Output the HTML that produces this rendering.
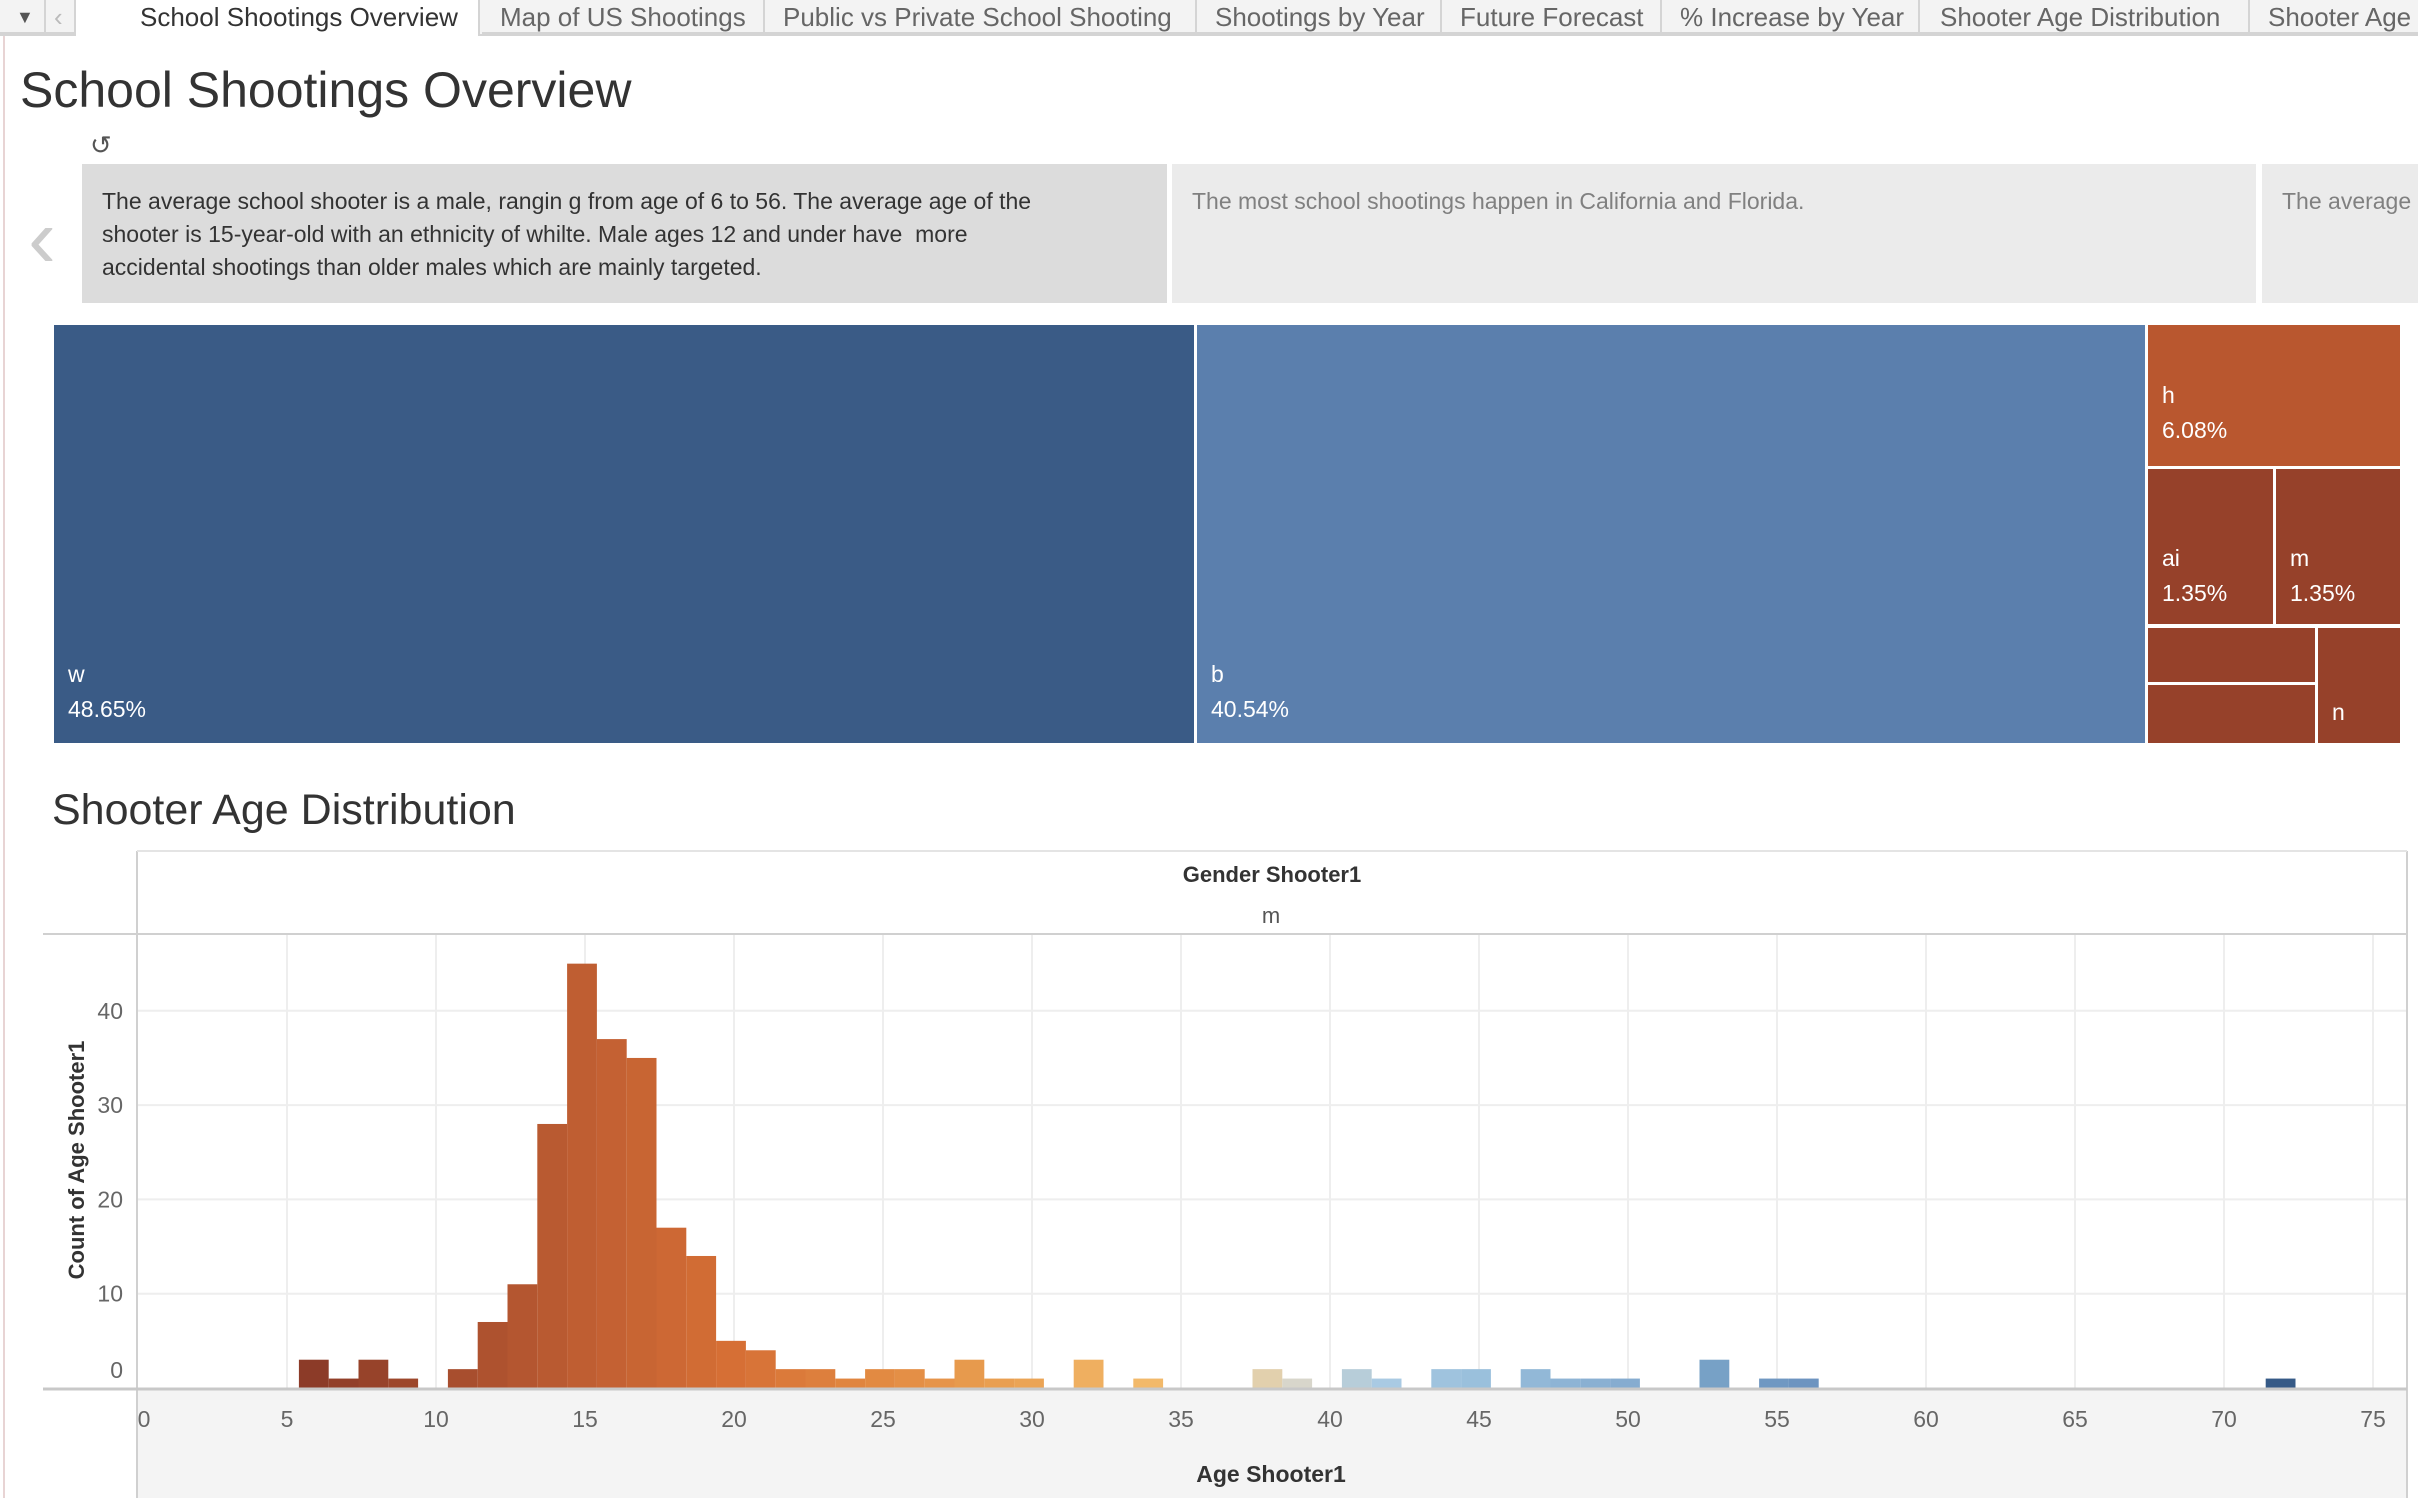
<!DOCTYPE html>
<html><head><meta charset="utf-8">
<style>
html,body{margin:0;padding:0;width:2418px;height:1498px;overflow:hidden;background:#fff;font-family:"Liberation Sans",sans-serif;}
.abs{position:absolute;}
.tab{position:absolute;top:0;height:34px;line-height:34px;font-size:26px;color:#666;background:#f3f3f3;border-right:2px solid #d4d4d4;border-bottom:2px solid #d4d4d4;padding-left:12px;white-space:nowrap;overflow:hidden;box-sizing:border-box;}
.tm{position:absolute;color:#fff;font-size:23px;box-sizing:border-box;}
.tm span{position:absolute;left:14px;line-height:35px;}
</style></head><body>
<div class="abs" style="left:3px;top:34px;width:2px;height:1464px;background:#e8d4d4"></div>
<div class="abs" style="left:0;top:0;width:2418px;height:36px;background:#f3f3f3;border-bottom:2px solid #d4d4d4;box-sizing:border-box"></div>
<div class="tab" style="left:0;width:46px;padding-left:16px;font-size:18px;color:#555">▼</div>
<div class="tab" style="left:46px;width:30px;padding-left:8px;color:#bbb">‹</div>
<div class="tab" style="left:76px;width:404px;padding-left:64px;background:#fff;color:#333;border-bottom:none;height:36px">School Shootings Overview</div>
<div class="tab" style="left:482px;width:283px;padding-left:18px">Map of US Shootings</div>
<div class="tab" style="left:765px;width:432px;padding-left:18px">Public vs Private School Shooting</div>
<div class="tab" style="left:1197px;width:245px;padding-left:18px">Shootings by Year</div>
<div class="tab" style="left:1442px;width:220px;padding-left:18px">Future Forecast</div>
<div class="tab" style="left:1662px;width:258px;padding-left:18px">% Increase by Year</div>
<div class="tab" style="left:1920px;width:330px;padding-left:20px">Shooter Age Distribution</div>
<div class="tab" style="left:2250px;width:168px;padding-left:18px;border-right:none">Shooter Age</div>

<div class="abs" style="left:20px;top:62px;font-size:50px;color:#333;line-height:56px">School Shootings Overview</div>
<div class="abs" style="left:90px;top:130px;font-size:26px;color:#555">↺</div>

<div class="abs" style="left:28px;top:196px;font-size:84px;color:#ccc;line-height:84px;font-weight:100">‹</div>
<div class="abs" style="left:82px;top:164px;width:1085px;height:139px;background:#dcdcdc;box-sizing:border-box;padding:21px 0 0 20px;font-size:23px;line-height:33px;color:#333">The average school shooter is a male, rangin g from age of 6 to 56. The average age of the<br>shooter is 15-year-old with an ethnicity of whilte. Male ages 12 and under have&nbsp; more<br>accidental shootings than older males which are mainly targeted.</div>
<div class="abs" style="left:1172px;top:164px;width:1084px;height:139px;background:#ebebeb;box-sizing:border-box;padding:21px 0 0 20px;font-size:23px;line-height:33px;color:#808080">The most school shootings happen in California and Florida.</div>
<div class="abs" style="left:2262px;top:164px;width:156px;height:139px;background:#ebebeb;box-sizing:border-box;padding:21px 0 0 20px;font-size:23px;line-height:33px;color:#808080;white-space:nowrap;overflow:hidden">The average</div>

<div class="tm" style="left:54px;top:325px;width:1140px;height:418px;background:#3a5b86"><span style="top:332px">w</span><span style="top:367px">48.65%</span></div>
<div class="tm" style="left:1197px;top:325px;width:948px;height:418px;background:#5b7fad"><span style="top:332px">b</span><span style="top:367px">40.54%</span></div>
<div class="tm" style="left:2148px;top:325px;width:252px;height:141px;background:#b9572f"><span style="top:53px">h</span><span style="top:88px">6.08%</span></div>
<div class="tm" style="left:2148px;top:469px;width:125px;height:155px;background:#96412a"><span style="top:72px">ai</span><span style="top:107px">1.35%</span></div>
<div class="tm" style="left:2276px;top:469px;width:124px;height:155px;background:#96412a"><span style="top:72px">m</span><span style="top:107px">1.35%</span></div>
<div class="tm" style="left:2148px;top:628px;width:167px;height:54px;background:#96412a"></div>
<div class="tm" style="left:2148px;top:685px;width:167px;height:58px;background:#96412a"></div>
<div class="tm" style="left:2318px;top:628px;width:82px;height:115px;background:#96412a"><span style="top:67px">n</span></div>

<div class="abs" style="left:52px;top:785px;font-size:43px;color:#333;line-height:50px">Shooter Age Distribution</div>

<svg class="abs" style="left:0;top:0" width="2418" height="1498" id="chart"></svg>

<script>
const ages=[6,7,8,9,11,12,13,14,15,16,17,18,19,20,21,22,23,24,25,26,27,28,29,30,32,34,38,39,41,42,44,45,47,48,49,50,53,55,56,72];
const counts=[3,1,3,1,2,7,11,28,45,37,35,17,14,5,4,2,2,1,2,2,1,3,1,1,3,1,2,1,2,1,2,2,2,1,1,1,3,1,1,1];
const xTicks=[0,5,10,15,20,25,30,35,40,45,50,55,60,65,70,75];
const yTicks=[0,10,20,30,40];

const NS="http://www.w3.org/2000/svg";
const svg=document.getElementById('chart');
const X0=138,PX=29.8,BASE=1388,PY=9.43,BSHIFT=-3;
const xs=a=>X0+a*PX;
const ys=c=>BASE-c*PY;
function mk(tag,attrs){const e=document.createElementNS(NS,tag);for(const k in attrs)e.setAttribute(k,attrs[k]);svg.appendChild(e);return e;}
const stops=[[6,[140,59,40]],[15,[191,94,50]],[20,[214,111,53]],[25,[226,138,66]],[30,[235,164,85]],[34,[242,185,106]],[38,[226,208,173]],[39,[216,214,203]],[41,[183,205,217]],[42,[169,202,227]],[45,[154,192,220]],[50,[134,172,208]],[53,[119,161,198]],[56,[109,148,192]],[72,[54,90,135]]];
function col(a){for(let i=0;i<stops.length-1;i++){const[a0,c0]=stops[i],[a1,c1]=stops[i+1];if(a<=a1){const t=Math.max(0,(a-a0)/(a1-a0));return 'rgb('+c0.map((v,j)=>Math.round(v+(c1[j]-v)*t)).join(',')+')';}}return 'rgb(54,90,135)';}

let e=mk('rect',{x:137,y:1390,width:2270,height:108,fill:'#f4f4f4'});


xTicks.forEach(t=>{if(t===0)return;const g=mk('line',{x1:xs(t),x2:xs(t),y1:934,y2:BASE,stroke:'#eeeeee','stroke-width':2});

});
yTicks.forEach(t=>{if(t===0)return;const g=mk('line',{x1:137,x2:2407,y1:ys(t),y2:ys(t),stroke:'#eeeeee','stroke-width':2});

});
ages.forEach((a,i)=>{const b=mk('rect',{x:xs(a)-PX/2+BSHIFT,y:ys(counts[i]),width:PX,height:counts[i]*PY,fill:col(a)});

});
[[137,851,137,1498],[2407,851,2407,1498],[43,934,2407,934],[137,851,2407,851]].forEach((l,i)=>{const f=mk('line',{x1:l[0],y1:l[1],x2:l[2],y2:l[3],stroke:i===3?'#e4e4e4':'#d0d0d0','stroke-width':2});

});
e=mk('line',{x1:43,x2:2407,y1:BASE+1,y2:BASE+1,stroke:'#c8c8c8','stroke-width':3});


xTicks.forEach(t=>{const tx=mk('text',{x:xs(t)+(t===0?6:0),y:1427,'font-size':23,fill:'#666','text-anchor':'middle','font-family':'Liberation Sans, sans-serif'});tx.textContent=t;

});
yTicks.forEach(t=>{const tx=mk('text',{x:123,y:ys(t)+(t===0?-10:8),'font-size':23,fill:'#666','text-anchor':'end','font-family':'Liberation Sans, sans-serif'});tx.textContent=t;

});
e=mk('text',{x:1271,y:1482,'font-size':23,'font-weight':'bold',fill:'#333','text-anchor':'middle','font-family':'Liberation Sans, sans-serif'});e.textContent='Age Shooter1';


e=mk('text',{x:84,y:1160,'font-size':22,'font-weight':'bold',fill:'#333','text-anchor':'middle','font-family':'Liberation Sans, sans-serif',transform:'rotate(-90 84 1160)'});e.textContent='Count of Age Shooter1';


e=mk('text',{x:1272,y:882,'font-size':22,'font-weight':'bold',fill:'#333','text-anchor':'middle','font-family':'Liberation Sans, sans-serif'});e.textContent='Gender Shooter1';


e=mk('text',{x:1271,y:923,'font-size':22,fill:'#555','text-anchor':'middle','font-family':'Liberation Sans, sans-serif'});e.textContent='m';


</script>
</body></html>
